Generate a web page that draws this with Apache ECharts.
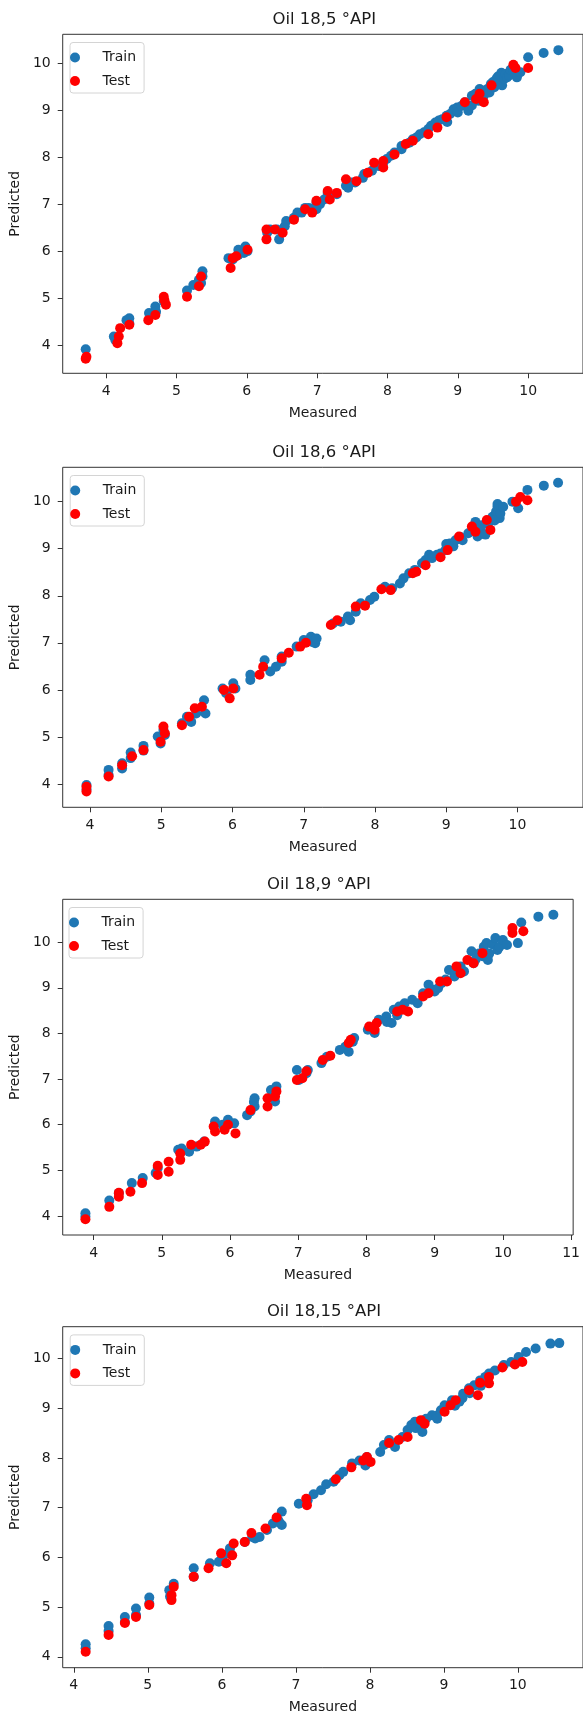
<!DOCTYPE html>
<html><head><meta charset="utf-8">
<script src="https://cdn.jsdelivr.net/npm/echarts@6/dist/echarts.min.js"></script>
<style>html,body{margin:0;padding:0;background:#fff}#c{width:583px;height:1717px}</style>
</head><body><div id="c"></div><script>
// ---------- data ----------
const titles = ['Oil 18,5 °API', 'Oil 18,6 °API', 'Oil 18,9 °API', 'Oil 18,15 °API'];
const seriesNames = ['Train', 'Test'];
const xLabel = 'Measured';
const yLabel = 'Predicted';
const xTicks1 = [4, 5, 6, 7, 8, 9, 10];
const xTicks2 = [4, 5, 6, 7, 8, 9, 10];
const xTicks3 = [4, 5, 6, 7, 8, 9, 10, 11];
const xTicks4 = [4, 5, 6, 7, 8, 9, 10];
const yTicks = [4, 5, 6, 7, 8, 9, 10];

const oil185Train = [[3.71,3.91],[4.11,4.18],[4.13,4.11],[4.29,4.53],[4.33,4.57],[4.33,4.46],[4.61,4.68],[4.70,4.82],[4.71,4.71],[4.82,4.93],[5.15,5.16],[5.24,5.28],[5.32,5.39],[5.35,5.32],[5.37,5.57],[5.37,5.46],[5.74,5.85],[5.80,5.82],[5.88,6.03],[5.88,5.92],[5.96,5.96],[5.98,6.10],[6.01,6.00],[6.29,6.39],[6.33,6.46],[6.43,6.46],[6.46,6.25],[6.54,6.53],[6.56,6.64],[6.67,6.71],[6.72,6.82],[6.78,6.82],[6.83,6.92],[6.88,6.92],[6.99,7.03],[6.99,6.89],[7.04,7.00],[7.10,7.10],[7.15,7.24],[7.28,7.21],[7.41,7.39],[7.44,7.35],[7.49,7.46],[7.54,7.46],[7.65,7.56],[7.67,7.64],[7.78,7.71],[7.88,7.81],[7.94,7.88],[7.99,7.96],[8.05,8.03],[8.10,8.10],[8.20,8.17],[8.20,8.24],[8.31,8.31],[8.36,8.38],[8.41,8.42],[8.46,8.49],[8.52,8.53],[8.58,8.60],[8.62,8.67],[8.68,8.74],[8.73,8.78],[8.78,8.81],[8.84,8.88],[8.85,8.75],[8.89,8.92],[8.94,9.02],[8.99,9.06],[9.00,8.95],[9.05,9.09],[9.10,9.17],[9.15,8.99],[9.20,9.31],[9.20,9.10],[9.25,9.35],[9.26,9.24],[9.30,9.20],[9.31,9.45],[9.34,9.42],[9.37,9.31],[9.42,9.45],[9.45,9.38],[9.47,9.56],[9.50,9.60],[9.52,9.49],[9.55,9.67],[9.57,9.72],[9.58,9.63],[9.60,9.74],[9.62,9.80],[9.63,9.53],[9.66,9.67],[9.68,9.77],[9.70,9.70],[9.73,9.74],[9.75,9.86],[9.79,9.84],[9.84,9.70],[9.89,9.81],[10.00,10.13],[10.22,10.22],[10.43,10.28]];
const oil185Test = [[3.71,3.71],[3.72,3.75],[4.16,4.04],[4.18,4.18],[4.20,4.36],[4.33,4.43],[4.60,4.53],[4.70,4.64],[4.82,5.03],[4.83,4.95],[4.85,4.86],[5.15,5.03],[5.32,5.25],[5.35,5.46],[5.77,5.64],[5.80,5.85],[5.85,5.89],[6.01,6.03],[6.28,6.46],[6.28,6.25],[6.40,6.46],[6.51,6.39],[6.67,6.67],[6.83,6.89],[6.93,6.82],[6.99,7.07],[7.15,7.28],[7.18,7.10],[7.28,7.24],[7.41,7.53],[7.56,7.49],[7.72,7.67],[7.81,7.88],[7.94,7.78],[7.94,7.92],[8.10,8.06],[8.26,8.28],[8.36,8.35],[8.58,8.49],[8.71,8.63],[8.84,8.85],[9.10,9.17],[9.26,9.24],[9.31,9.35],[9.37,9.17],[9.48,9.53],[9.79,9.97],[9.82,9.90],[10.00,9.90]];

const oil186Train = [[3.95,3.98],[3.95,3.89],[4.26,4.30],[4.26,4.19],[4.45,4.44],[4.45,4.33],[4.57,4.67],[4.57,4.55],[4.75,4.81],[4.75,4.71],[4.95,5.01],[4.99,4.86],[5.03,5.15],[5.05,5.04],[5.29,5.29],[5.36,5.43],[5.42,5.32],[5.49,5.50],[5.60,5.78],[5.62,5.50],[5.86,6.03],[5.91,5.93],[6.01,6.14],[6.04,6.03],[6.25,6.32],[6.25,6.21],[6.45,6.63],[6.53,6.39],[6.61,6.49],[6.69,6.71],[6.69,6.60],[6.90,6.92],[7.00,7.06],[7.10,7.13],[7.12,7.02],[7.15,7.05],[7.16,6.99],[7.18,7.09],[7.41,7.41],[7.52,7.45],[7.62,7.56],[7.65,7.48],[7.73,7.66],[7.80,7.84],[7.93,7.91],[7.99,7.98],[8.14,8.19],[8.24,8.16],[8.35,8.26],[8.40,8.37],[8.48,8.48],[8.56,8.55],[8.66,8.69],[8.71,8.76],[8.76,8.87],[8.80,8.80],[8.87,8.87],[8.92,8.90],[8.99,8.97],[9.00,9.10],[9.05,9.11],[9.10,9.05],[9.13,9.18],[9.20,9.25],[9.23,9.18],[9.31,9.33],[9.39,9.43],[9.41,9.57],[9.44,9.26],[9.49,9.36],[9.50,9.50],[9.55,9.30],[9.59,9.54],[9.65,9.68],[9.68,9.60],[9.70,9.79],[9.72,9.89],[9.72,9.95],[9.75,9.65],[9.76,9.75],[9.80,9.89],[9.93,10.00],[10.01,9.86],[10.14,10.25],[10.37,10.34],[10.57,10.40]];
const oil186Test = [[3.95,3.84],[3.95,3.94],[4.26,4.16],[4.45,4.40],[4.59,4.59],[4.75,4.72],[4.99,4.90],[5.03,5.22],[5.05,5.08],[5.29,5.25],[5.39,5.43],[5.47,5.61],[5.57,5.64],[5.88,6.00],[5.96,5.82],[6.01,6.03],[6.38,6.32],[6.43,6.49],[6.69,6.67],[6.79,6.79],[6.95,6.92],[7.03,7.00],[7.38,7.38],[7.47,7.48],[7.73,7.77],[7.86,7.79],[8.09,8.14],[8.22,8.12],[8.53,8.48],[8.58,8.51],[8.71,8.65],[8.92,8.82],[9.02,8.97],[9.18,9.26],[9.36,9.47],[9.41,9.36],[9.57,9.61],[9.62,9.40],[9.98,10.00],[10.04,10.10],[10.14,10.03]];

const oil189Train = [[3.88,4.06],[3.88,3.99],[4.23,4.34],[4.37,4.50],[4.56,4.72],[4.72,4.83],[4.91,4.94],[4.94,5.05],[5.24,5.45],[5.29,5.48],[5.40,5.41],[5.51,5.52],[5.62,5.63],[5.78,6.07],[5.89,6.00],[5.97,6.11],[6.06,6.03],[6.25,6.21],[6.30,6.29],[6.35,6.50],[6.36,6.58],[6.36,6.40],[6.60,6.76],[6.66,6.51],[6.68,6.84],[6.98,7.20],[7.01,6.98],[7.12,7.13],[7.14,7.20],[7.34,7.35],[7.42,7.49],[7.61,7.64],[7.69,7.71],[7.74,7.60],[7.80,7.82],[7.82,7.90],[8.02,8.08],[8.12,8.01],[8.18,8.30],[8.29,8.37],[8.30,8.25],[8.37,8.23],[8.40,8.52],[8.45,8.40],[8.48,8.59],[8.56,8.66],[8.67,8.74],[8.75,8.66],[8.83,8.88],[8.91,9.07],[8.97,8.96],[9.00,8.92],[9.05,8.99],[9.10,9.10],[9.16,9.18],[9.21,9.39],[9.29,9.25],[9.30,9.35],[9.38,9.47],[9.43,9.36],[9.54,9.80],[9.57,9.54],[9.60,9.62],[9.65,9.75],[9.70,9.69],[9.72,9.90],[9.78,9.61],[9.76,9.98],[9.80,9.75],[9.85,9.95],[9.89,10.09],[9.92,9.83],[9.95,9.90],[10.00,10.05],[10.06,9.94],[10.22,9.98],[10.27,10.43],[10.52,10.56],[10.74,10.60]];
const oil189Test = [[3.88,3.93],[4.23,4.20],[4.37,4.42],[4.37,4.51],[4.54,4.53],[4.71,4.72],[4.94,4.90],[4.94,5.10],[5.10,4.97],[5.10,5.19],[5.27,5.37],[5.27,5.23],[5.43,5.56],[5.57,5.56],[5.63,5.63],[5.76,5.96],[5.78,5.85],[5.92,5.89],[5.97,6.00],[6.08,5.81],[6.30,6.32],[6.55,6.58],[6.55,6.40],[6.68,6.73],[6.66,6.62],[6.98,6.98],[7.06,7.02],[7.12,7.17],[7.36,7.42],[7.47,7.51],[7.74,7.79],[7.77,7.86],[8.04,8.15],[8.15,8.23],[8.12,8.08],[8.45,8.48],[8.53,8.52],[8.61,8.48],[8.83,8.81],[8.91,8.88],[9.08,9.14],[9.18,9.14],[9.32,9.47],[9.38,9.32],[9.48,9.61],[9.57,9.54],[9.70,9.76],[10.14,10.31],[10.14,10.20],[10.30,10.24]];

const oil1815Train = [[4.16,4.25],[4.16,4.17],[4.47,4.62],[4.47,4.52],[4.69,4.80],[4.69,4.70],[4.84,4.97],[4.84,4.84],[5.02,5.19],[5.02,5.07],[5.29,5.34],[5.30,5.21],[5.35,5.47],[5.62,5.78],[5.62,5.61],[5.84,5.88],[5.96,5.91],[6.01,6.01],[6.09,6.08],[6.11,6.18],[6.31,6.31],[6.41,6.41],[6.45,6.38],[6.51,6.41],[6.61,6.55],[6.69,6.68],[6.76,6.75],[6.78,6.70],[6.81,6.65],[6.81,6.92],[7.04,7.08],[7.16,7.15],[7.24,7.27],[7.34,7.35],[7.41,7.47],[7.51,7.52],[7.59,7.65],[7.64,7.72],[7.76,7.89],[7.86,7.95],[7.94,7.85],[7.96,8.02],[8.14,8.12],[8.19,8.26],[8.26,8.36],[8.34,8.22],[8.44,8.42],[8.51,8.56],[8.56,8.66],[8.61,8.73],[8.62,8.60],[8.66,8.70],[8.70,8.62],[8.71,8.52],[8.76,8.79],[8.84,8.86],[8.90,8.85],[8.91,8.79],[8.96,8.96],[9.01,9.06],[9.11,9.16],[9.15,9.05],[9.21,9.13],[9.25,9.20],[9.26,9.29],[9.34,9.40],[9.35,9.30],[9.41,9.46],[9.49,9.56],[9.50,9.45],[9.56,9.63],[9.61,9.70],[9.69,9.76],[9.81,9.87],[9.91,9.93],[10.01,10.03],[10.11,10.13],[10.24,10.20],[10.44,10.30],[10.56,10.31]];
const oil1815Test = [[4.16,4.10],[4.47,4.44],[4.69,4.68],[4.84,4.80],[5.02,5.04],[5.32,5.24],[5.32,5.14],[5.35,5.41],[5.62,5.61],[5.82,5.78],[5.99,6.08],[6.06,5.88],[6.14,6.04],[6.16,6.28],[6.31,6.31],[6.40,6.49],[6.59,6.58],[6.74,6.80],[7.14,7.18],[7.15,7.05],[7.54,7.57],[7.75,7.81],[7.91,7.95],[7.96,8.02],[8.01,7.92],[8.26,8.30],[8.39,8.36],[8.51,8.42],[8.69,8.76],[8.74,8.69],[9.01,8.93],[9.09,9.06],[9.16,9.16],[9.34,9.36],[9.46,9.26],[9.49,9.51],[9.61,9.63],[9.61,9.50],[9.79,9.82],[9.96,9.88],[10.06,9.93]];

// ---------- layout ----------
const trainSets = [oil185Train, oil186Train, oil189Train, oil1815Train];
const testSets = [oil185Test, oil186Test, oil189Test, oil1815Test];
const xTickSets = [xTicks1, xTicks2, xTicks3, xTicks4];
const panels = [
  {left: 62.3, top: 34.3, width: 524, height: 339, xMin: 3.383, xMax: 10.78, yMin: 3.398, yMax: 10.617},
  {left: 62.5, top: 467.3, width: 523, height: 340, xMin: 3.616, xMax: 10.92, yMin: 3.505, yMax: 10.73},
  {left: 61.3, top: 899.3, width: 515.2, height: 335.7, xMin: 3.547, xMax: 11.03, yMin: 3.583, yMax: 10.94},
  {left: 62.5, top: 1326.7, width: 523, height: 341, xMin: 3.85, xMax: 10.88, yMin: 3.78, yMax: 10.64}
];
const FONT = 'DejaVu Sans';
const TXT = '#1a1a1a';
const AX = '#333';

const option = {animation: false, title: [], grid: [], xAxis: [], yAxis: [], legend: [], series: []};
panels.forEach((p, i) => {
  option.title.push({
    text: titles[i], left: p.left + p.width / 2, top: p.top - 25, textAlign: 'center', padding: 0,
    textStyle: {fontFamily: FONT, fontSize: 16.5, fontWeight: 'normal', color: TXT, lineHeight: 20}
  });
  option.grid.push({left: p.left, top: p.top, width: p.width, height: p.height, show: true,
    borderColor: AX, borderWidth: 1, backgroundColor: 'transparent', containLabel: false});
  option.xAxis.push({
    gridIndex: i, type: 'value', min: p.xMin, max: p.xMax,
    axisLine: {show: false}, splitLine: {show: false},
    axisTick: {show: true, length: 5, lineStyle: {color: AX}, customValues: xTickSets[i]},
    axisLabel: {customValues: xTickSets[i], margin: 11, fontFamily: FONT, fontSize: 14, color: TXT},
    name: xLabel, nameLocation: 'middle', nameGap: 33,
    nameTextStyle: {fontFamily: FONT, fontSize: 14, color: TXT}
  });
  option.yAxis.push({
    gridIndex: i, type: 'value', min: p.yMin, max: p.yMax,
    axisLine: {show: false}, splitLine: {show: false},
    axisTick: {show: true, length: 5, lineStyle: {color: AX}, customValues: yTicks},
    axisLabel: {customValues: yTicks, margin: 12, fontFamily: FONT, fontSize: 14, color: TXT},
    name: yLabel, nameLocation: 'middle', nameGap: 37,
    nameTextStyle: {fontFamily: FONT, fontSize: 14, color: TXT}
  });
  option.legend.push({
    orient: 'vertical', left: p.left + 7.7, top: p.top + 8.2,
    padding: [7, 8, 4, 0], itemWidth: 45, itemHeight: 10, itemGap: 7.5,
    borderColor: '#d4d4d4', borderWidth: 1, borderRadius: 3, backgroundColor: '#fff',
    textStyle: {fontFamily: FONT, fontSize: 14, color: TXT, lineHeight: 16},
    data: [{name: seriesNames[0], icon: 'circle'}, {name: seriesNames[1], icon: 'circle'}],
    selectedMode: false
  });
  option.series.push({
    type: 'scatter', name: seriesNames[0], xAxisIndex: i, yAxisIndex: i, data: trainSets[i],
    symbol: 'circle', symbolSize: 10, itemStyle: {color: '#1f77b4', opacity: 1}, silent: true, z: 2
  });
  option.series.push({
    type: 'scatter', name: seriesNames[1], xAxisIndex: i, yAxisIndex: i, data: testSets[i],
    symbol: 'circle', symbolSize: 10, itemStyle: {color: '#ff0000', opacity: 1}, silent: true, z: 3
  });
});
const chart = echarts.init(document.getElementById('c'), null, {renderer: 'canvas'});
chart.setOption(option);
</script></body></html>
